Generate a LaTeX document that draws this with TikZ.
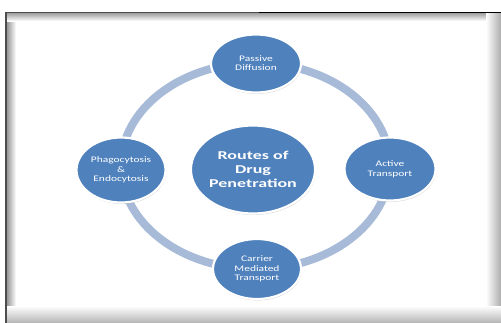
\documentclass[tikz,border=0pt]{standalone}
\usepackage{fontspec}
\setmainfont{Carlito}
\newfontfamily\routefont[FakeStretch=1.35]{Carlito}
\newfontfamily\hubfont[FakeStretch=1.5,UprightFont={Carlito Bold}]{Carlito}
\usetikzlibrary{shapes.geometric,shadows}
\definecolor{nodeblue}{RGB}{79,129,189}
\definecolor{ringblue}{RGB}{167,186,216}
\begin{document}
\begin{tikzpicture}[x=1pt,y=-1pt,
  route/.style={ellipse, fill=nodeblue, draw=white, line width=2.2pt,
    inner sep=0pt, text=white, align=center,
    font=\routefont\fontsize{8.5}{9.5}\selectfont,
    drop shadow={opacity=0.35, shadow xshift=0.6pt, shadow yshift=-1.4pt}},
  hub/.style={route, font=\hubfont\fontsize{12}{14.3}\selectfont},
  frameline/.style={line width=1.6pt}]
\useasboundingbox (0,0) rectangle (501,322);
\begin{scope}
\clip (0,0) rectangle (501,322);
\fill[white] (0,0) rectangle (501,322);
% inner bevel of the frame
\shade[left color=gray!80, right color=white] (7,13) rectangle (16,322);
\shade[top color=gray!75, bottom color=white] (7,13) rectangle (501,21);
\shade[left color=white, right color=gray!65] (486,13) rectangle (501,322);
\shade[top color=white, bottom color=gray!55] (7,306) rectangle (501,322);
\fill[white] (16,21) rectangle (486,306);
% outer frame line
\draw[frameline, black!70] (6,330) -- (6,12.5) -- (259,12.5);
\draw[frameline, black] (259,12.5) -- (510,12.5);
\end{scope}

% ring joining the routes
\coordinate (ringc) at (255.5,166);
\draw[ringblue, line width=8pt] (ringc) ellipse [x radius=134.5, y radius=103];

% hub and the four routes
\node[hub, minimum width=124pt, minimum height=88pt] (hub) at (253,169.5)
  {Routes of\\Drug\\Penetration};
\node[route, minimum width=90pt, minimum height=58pt] (passive) at (256,63.5)
  {\raisebox{-4pt}{\shortstack{Passive\\Diffusion}}};
\node[route, minimum width=91pt, minimum height=63pt] (active) at (390,169)
  {Active\\Transport};
\node[route, minimum width=88pt, minimum height=60pt] (carrier) at (257,269)
  {Carrier\\Mediated\\Transport};
\node[route, minimum width=89pt, minimum height=65pt] (phago) at (121,170)
  {Phagocytosis\\\&\\Endocytosis};
\end{tikzpicture}
\end{document}
